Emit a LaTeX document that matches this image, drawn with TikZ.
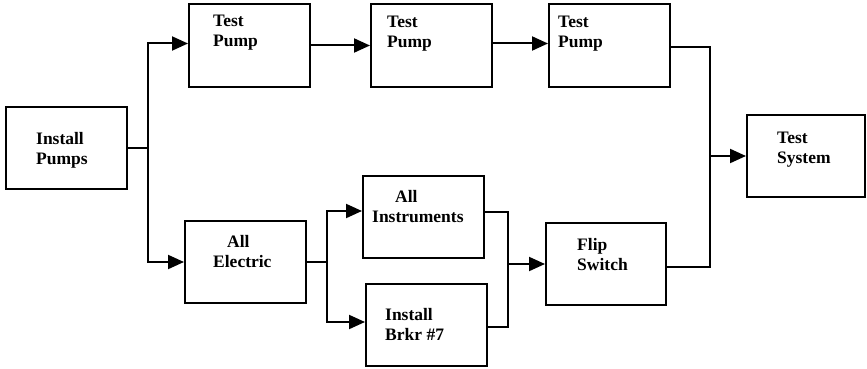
\documentclass[tikz,border=0pt]{standalone}
\usepackage{fontspec}
\setmainfont{Liberation Serif}
\usetikzlibrary{arrows.meta,calc}
\begin{document}
\begin{tikzpicture}[x=1pt,y=-1pt,
  box/.style={draw, line width=2pt, minimum width=121pt, minimum height=82pt, inner sep=0pt},
  lbl/.style={anchor=north west, inner sep=0pt, align=left, font=\fontsize{17.5}{20}\selectfont\bfseries},
  wire/.style={line width=2pt},
  arr/.style={wire, -{Triangle[length=16pt,width=14pt]}}]
\useasboundingbox (0,0) rectangle (867,369);
% boxes
\node[box] (ip)  at (66.5,148) {};
\node[box] (tp1) at (249.5,45.5) {};
\node[box] (tp2) at (431.5,45.5) {};
\node[box] (tp3) at (609.5,45.5) {};
\node[box, minimum width=118pt] (ts) at (806,156) {};
\node[box] (ae)  at (245.5,262) {};
\node[box] (ai)  at (423.5,217) {};
\node[box] (ib)  at (426.5,325) {};
\node[box, minimum width=120pt] (fs) at (606,264) {};
% labels
\node[lbl] (ipt)  at (36,132)  {Install\\Pumps};
\node[lbl] (tp1t) at (213,15)  {Test\\Pump};
\node[lbl] (tp2t) at (387,16)  {Test\\Pump};
\node[lbl] (tp3t) at (558,16)  {Test\\Pump};
\node[lbl] (tst)  at (777,132) {Test\\System};
\node[lbl] (aet)  at (213,235) {\hspace*{14pt}All\\Electric};
\node[lbl] (ait)  at (372,190) {\hspace*{23pt}All\\Instruments};
\node[lbl] (ibt)  at (385,308) {Install\\Brkr \#7};
\node[lbl] (fst)  at (577,238) {Flip\\Switch};
% junctions
\coordinate (j1) at (148,148);
\coordinate (j2) at (327,262);
\coordinate (j3) at (710,156);
\coordinate (j4) at (508,264);
% connectors
\draw[wire] (ip.east) -- (j1);
\draw[arr] (j1) |- ($(tp1.west)+(0,-2)$);
\draw[arr] (j1) |- (ae.west);
\draw[arr] (tp1.east) -- (tp2.west);
\draw[arr] ($(tp2.east)+(0,-2)$) -- ($(tp3.west)+(0,-2)$);
\draw[wire] ($(tp3.east)+(0,2)$) -| (j3);
\draw[wire] ($(fs.east)+(0,3)$) -| (j3);
\draw[arr] (j3) -- (ts.west);
\draw[wire] (ae.east) -- (j2);
\draw[arr] (j2) |- ($(ai.west)+(0,-6)$);
\draw[arr] (j2) |- ($(ib.west)+(0,-3)$);
\draw[wire] ($(ai.east)+(0,-5)$) -| (j4);
\draw[wire] ($(ib.east)+(0,2)$) -| (j4);
\draw[arr] (j4) -- (fs.west);
\end{tikzpicture}
\end{document}
